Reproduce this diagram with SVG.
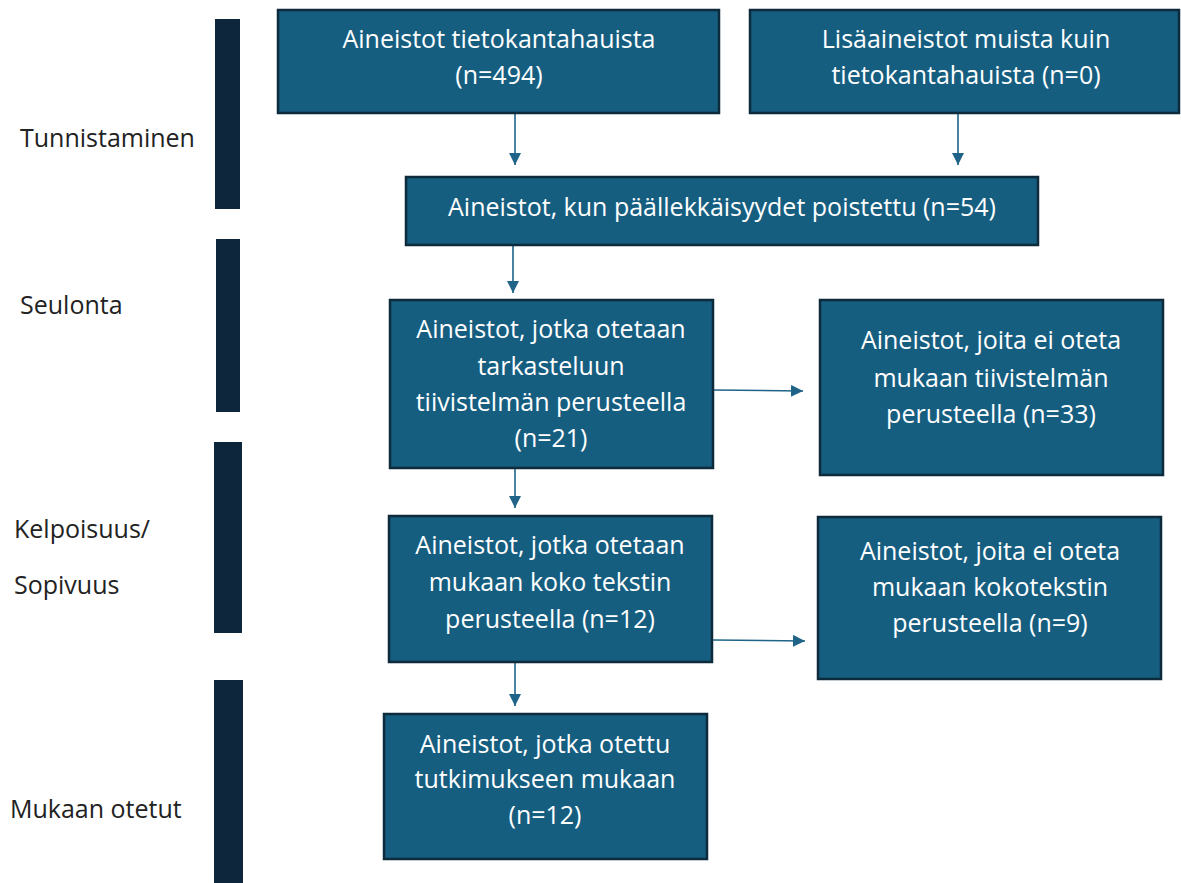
<svg xmlns="http://www.w3.org/2000/svg" width="1181" height="883" viewBox="0 0 1181 883">
<style>
.box{fill:#165e80;stroke:#0e2b3c;stroke-width:2.5}
.bar{fill:#0e263b}
.t{font-family:"Open Sans","Liberation Sans",Arial,sans-serif;font-size:25px;fill:#ffffff;text-anchor:middle}
.lbl{font-family:"Open Sans","Liberation Sans",Arial,sans-serif;font-size:25px;fill:#222222}
.c{stroke:#1f6488;stroke-width:1.6;fill:none;marker-end:url(#ah)}
</style>
<defs>
<marker id="ah" viewBox="0 0 10 10" refX="10" refY="5" markerWidth="12" markerHeight="12" markerUnits="userSpaceOnUse" orient="auto">
<path d="M0,0 L10,5 L0,10 Z" fill="#1f6488"/>
</marker>
</defs>
<rect width="1181" height="883" fill="#ffffff"/>
<g id="phases">
<rect class="bar" x="215" y="19" width="25" height="190"/>
<rect class="bar" x="216" y="239" width="24" height="173"/>
<rect class="bar" x="214" y="442" width="28" height="191"/>
<rect class="bar" x="214" y="680" width="29" height="203"/>
<text class="lbl" x="20" y="147">Tunnistaminen</text>
<text class="lbl" x="20" y="314">Seulonta</text>
<text class="lbl" x="14" y="538">Kelpoisuus/</text>
<text class="lbl" x="14" y="594">Sopivuus</text>
<text class="lbl" x="10" y="818">Mukaan otetut</text>
</g>
<g id="connectors">
<line class="c" x1="515" y1="113" x2="515" y2="165"/>
<line class="c" x1="958" y1="113" x2="958" y2="165"/>
<line class="c" x1="513" y1="245" x2="513" y2="293"/>
<line class="c" x1="515" y1="468" x2="515" y2="508"/>
<line class="c" x1="515" y1="662" x2="515" y2="706"/>
<line class="c" x1="713" y1="390" x2="803" y2="391"/>
<line class="c" x1="713" y1="640" x2="805" y2="641"/>
</g>
<g id="n1">
<rect class="box" x="278" y="10" width="441" height="103"/>
<text class="t" x="499" y="48">Aineistot tietokantahauista</text>
<text class="t" x="499" y="84">(n=494)</text>
</g>
<g id="n2">
<rect class="box" x="750" y="10" width="429" height="103"/>
<text class="t" x="966" y="48">Lisäaineistot muista kuin</text>
<text class="t" x="966" y="84">tietokantahauista (n=0)</text>
</g>
<g id="n3">
<rect class="box" x="406" y="177" width="632" height="68"/>
<text class="t" x="722" y="216">Aineistot, kun päällekkäisyydet poistettu (n=54)</text>
</g>
<g id="n4">
<rect class="box" x="390" y="300" width="323" height="168"/>
<text class="t" x="551" y="338">Aineistot, jotka otetaan</text>
<text class="t" x="551" y="375">tarkasteluun</text>
<text class="t" x="551" y="411">tiivistelmän perusteella</text>
<text class="t" x="551" y="447">(n=21)</text>
</g>
<g id="n5">
<rect class="box" x="820" y="300" width="343" height="175"/>
<text class="t" x="991" y="349">Aineistot, joita ei oteta</text>
<text class="t" x="991" y="387">mukaan tiivistelmän</text>
<text class="t" x="991" y="423">perusteella (n=33)</text>
</g>
<g id="n6">
<rect class="box" x="389" y="516" width="323" height="146"/>
<text class="t" x="550" y="554">Aineistot, jotka otetaan</text>
<text class="t" x="550" y="591">mukaan koko tekstin</text>
<text class="t" x="550" y="628">perusteella (n=12)</text>
</g>
<g id="n7">
<rect class="box" x="818" y="517" width="343" height="162"/>
<text class="t" x="990" y="560">Aineistot, joita ei oteta</text>
<text class="t" x="990" y="596">mukaan kokotekstin</text>
<text class="t" x="990" y="632">perusteella (n=9)</text>
</g>
<g id="n8">
<rect class="box" x="384" y="714" width="323" height="145"/>
<text class="t" x="545" y="753">Aineistot, jotka otettu</text>
<text class="t" x="545" y="788">tutkimukseen mukaan</text>
<text class="t" x="545" y="824">(n=12)</text>
</g>
</svg>
